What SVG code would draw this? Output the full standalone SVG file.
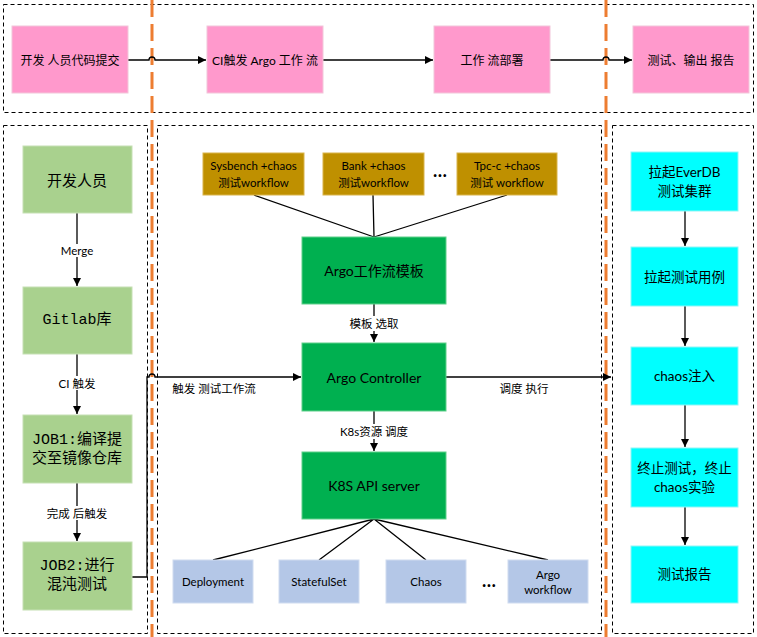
<svg xmlns="http://www.w3.org/2000/svg" width="757" height="637" viewBox="0 0 757 637">
<defs>
<marker id="ah" viewBox="0 0 10 10" refX="10" refY="5" markerWidth="8" markerHeight="8" markerUnits="userSpaceOnUse" orient="auto"><path d="M0,0 L10,5 L0,10 z" fill="#000"/></marker>
<style>
.frame{fill:none;stroke:#000;stroke-width:1;stroke-dasharray:4 3}
.sep{fill:none;stroke:#ED7D31;stroke-width:3;stroke-dasharray:17 7}
.pink{fill:#FF99CC;stroke:#F2C6DA;stroke-width:1}
.lg{fill:#A9D18E;stroke:#C5E0B4;stroke-width:1}
.gold{fill:#BF9000;stroke:#D9B44A;stroke-width:1}
.dg{fill:#00B050;stroke:#5FD08A;stroke-width:1}
.blue{fill:#B4C7E7;stroke:#D0DCF0;stroke-width:1}
.cyan{fill:#00FFFF;stroke:#8FF5F5;stroke-width:1}
.t{font-family:Lato,"Noto Sans CJK SC",sans-serif;fill:#000;text-anchor:middle;dominant-baseline:central}
.mono{font-family:"Liberation Mono","Noto Sans CJK SC",monospace;fill:#000;text-anchor:middle;dominant-baseline:central}
.c{fill:none;stroke:#000;stroke-width:1.3}
.lbl{font-family:Lato,"Noto Sans CJK SC",sans-serif;font-size:11.5px;fill:#000;text-anchor:middle;dominant-baseline:central}
.dots{font-family:Lato,sans-serif;font-size:18px;font-weight:bold;fill:#000;text-anchor:middle;dominant-baseline:central}
</style>
</defs>
<rect width="757" height="637" fill="#fff"/>
<g id="frames">
<rect class="frame" x="3.5" y="4.5" width="750" height="108"/>
<rect class="frame" x="3.5" y="125.5" width="144" height="508"/>
<rect class="frame" x="157.5" y="125.5" width="444" height="508"/>
<rect class="frame" x="612.5" y="125.5" width="141" height="508"/>
</g>
<g id="separators">
<line class="sep" x1="152" y1="0" x2="152" y2="637"/>
<line class="sep" x1="606" y1="0" x2="606" y2="637"/>
</g>
<g id="connectors">
<path class="c" d="M128,60 H149 A3,3 0 0 1 155,60 H206" marker-end="url(#ah)"/>
<path class="c" d="M323,60 H433" marker-end="url(#ah)"/>
<path class="c" d="M550,60 H603 A3,3 0 0 1 609,60 H632" marker-end="url(#ah)"/>
<path class="c" d="M77,213 V244"/>
<path class="c" d="M77,257 V286" marker-end="url(#ah)"/>
<path class="c" d="M77,354 V376"/>
<path class="c" d="M77,390 V414" marker-end="url(#ah)"/>
<path class="c" d="M77,483 V506"/>
<path class="c" d="M77,520 V541" marker-end="url(#ah)"/>
<path class="c" d="M132,577 H147 V377 H149 A3,3 0 0 1 155,377 H301" marker-end="url(#ah)"/>
<path class="c" d="M254,195 L374,237 M373,195 L374,237 M507,195 L374,237"/>
<path class="c" d="M374,304 V316"/>
<path class="c" d="M374,331 V342" marker-end="url(#ah)"/>
<path class="c" d="M374,411 V424"/>
<path class="c" d="M374,439 V451" marker-end="url(#ah)"/>
<path class="c" d="M446,377 H611" marker-end="url(#ah)"/>
<path class="c" d="M374,519 L213,560 M374,519 L319,560 M374,519 L426,560 M374,519 L548,560"/>
<path class="c" d="M685,211 V246" marker-end="url(#ah)"/>
<path class="c" d="M685,306 V346" marker-end="url(#ah)"/>
<path class="c" d="M685,405 V447" marker-end="url(#ah)"/>
<path class="c" d="M685,507 V545" marker-end="url(#ah)"/>
<text class="lbl" x="77" y="250" font-size="11">Merge</text>
<text class="lbl" x="77" y="383">CI 触发</text>
<text class="lbl" x="77" y="513">完成 后触发</text>
<text class="lbl" x="374" y="323">模板 选取</text>
<text class="lbl" x="374" y="431">K8s资源 调度</text>
<text class="lbl" x="214" y="388">触发 测试工作流</text>
<text class="lbl" x="524" y="388">调度 执行</text>
<text class="dots" x="440" y="170">…</text>
<text class="dots" x="489" y="580">…</text>
</g>
<g id="n_dev_commit"><rect class="pink" x="12" y="26" width="116" height="67"/><text class="t" x="70" y="60" font-size="12">开发 人员代码提交</text></g>
<g id="n_ci_trigger"><rect class="pink" x="207" y="26" width="116" height="67"/><text class="t" x="265" y="60" font-size="12">CI触发 Argo 工作 流</text></g>
<g id="n_deploy"><rect class="pink" x="434" y="26" width="116" height="67"/><text class="t" x="492" y="60" font-size="12">工作 流部署</text></g>
<g id="n_report_top"><rect class="pink" x="633" y="26" width="116" height="67"/><text class="t" x="691" y="60" font-size="12">测试、输出 报告</text></g>
<g id="n_dev"><rect class="lg" x="23" y="146" width="109" height="67"/><text class="t" x="77" y="180" font-size="15">开发人员</text></g>
<g id="n_gitlab"><rect class="lg" x="23" y="287" width="109" height="67"/><text class="mono" x="77" y="320" font-size="15">Gitlab库</text></g>
<g id="n_job1"><rect class="lg" x="23" y="415" width="109" height="68"/><text class="mono" x="77" y="440" font-size="15">JOB1:编译提</text><text class="mono" x="77" y="459" font-size="15">交至镜像仓库</text></g>
<g id="n_job2"><rect class="lg" x="23" y="542" width="109" height="68"/><text class="mono" x="77" y="566" font-size="15">JOB2:进行</text><text class="mono" x="77" y="585" font-size="15">混沌测试</text></g>
<g id="n_sysbench"><rect class="gold" x="203" y="153" width="101" height="42"/><text class="t" x="253.5" y="165" font-size="11.5">Sysbench +chaos</text><text class="t" x="253.5" y="182" font-size="11.5">测试workflow</text></g>
<g id="n_bank"><rect class="gold" x="323" y="153" width="101" height="42"/><text class="t" x="373.5" y="165" font-size="11.5">Bank +chaos</text><text class="t" x="373.5" y="182" font-size="11.5">测试workflow</text></g>
<g id="n_tpcc"><rect class="gold" x="457" y="153" width="100" height="42"/><text class="t" x="507" y="165" font-size="11.5">Tpc-c +chaos</text><text class="t" x="507" y="182" font-size="11.5">测试 workflow</text></g>
<g id="n_template"><rect class="dg" x="302" y="237" width="144" height="67"/><text class="t" x="374" y="270" font-size="14">Argo工作流模板</text></g>
<g id="n_controller"><rect class="dg" x="302" y="343" width="144" height="68"/><text class="t" x="374" y="377" font-size="14">Argo Controller</text></g>
<g id="n_k8s"><rect class="dg" x="302" y="452" width="144" height="67"/><text class="t" x="374" y="485" font-size="14">K8S API server</text></g>
<g id="n_deployment"><rect class="blue" x="173" y="560" width="80" height="43"/><text class="t" x="213" y="581" font-size="11.5">Deployment</text></g>
<g id="n_statefulset"><rect class="blue" x="279" y="560" width="80" height="43"/><text class="t" x="319" y="581" font-size="11.5">StatefulSet</text></g>
<g id="n_chaos"><rect class="blue" x="386" y="560" width="80" height="43"/><text class="t" x="426" y="581" font-size="11.5">Chaos</text></g>
<g id="n_argowf"><rect class="blue" x="508" y="560" width="80" height="43"/><text class="t" x="548" y="574" font-size="11.5">Argo</text><text class="t" x="548" y="589" font-size="11.5">workflow</text></g>
<g id="n_cluster"><rect class="cyan" x="631" y="152" width="107" height="59"/><text class="t" x="684.5" y="172" font-size="13.5">拉起EverDB</text><text class="t" x="684.5" y="191" font-size="13.5">测试集群</text></g>
<g id="n_cases"><rect class="cyan" x="631" y="247" width="107" height="59"/><text class="t" x="684.5" y="277" font-size="13.5">拉起测试用例</text></g>
<g id="n_inject"><rect class="cyan" x="631" y="347" width="107" height="58"/><text class="t" x="684.5" y="376" font-size="13.5">chaos注入</text></g>
<g id="n_stop"><rect class="cyan" x="631" y="448" width="107" height="59"/><text class="t" x="684.5" y="468" font-size="13.5">终止测试，终止</text><text class="t" x="684.5" y="487" font-size="13.5">chaos实验</text></g>
<g id="n_report"><rect class="cyan" x="631" y="546" width="107" height="57"/><text class="t" x="684.5" y="574" font-size="13.5">测试报告</text></g>
</svg>
